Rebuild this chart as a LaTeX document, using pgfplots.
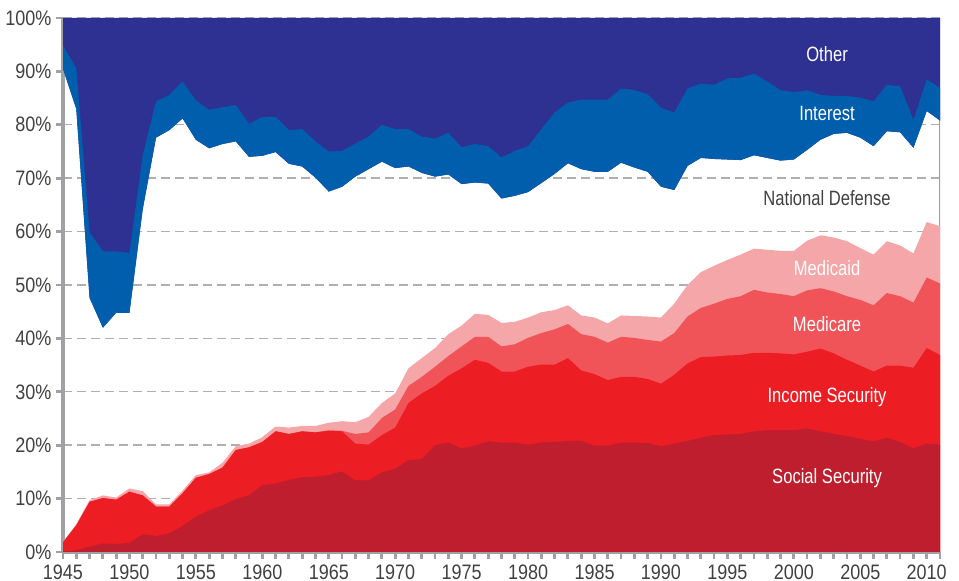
\documentclass[border=0pt]{standalone}
\usepackage{fontspec}
\setmainfont{Liberation Sans}[FakeStretch=0.86]
\newfontfamily\labfont{Liberation Sans}[FakeStretch=0.8]
\usepackage{pgfplots}
\usepackage{pgfplotstable}
\usepgfplotslibrary{fillbetween}
\pgfplotsset{compat=1.18}
\definecolor{othercol}{RGB}{46,49,146}
\definecolor{intcol}{RGB}{0,94,172}
\definecolor{mcdcol}{RGB}{244,166,168}
\definecolor{mcrcol}{RGB}{240,84,89}
\definecolor{inccol}{RGB}{237,29,36}
\definecolor{sscol}{RGB}{190,30,45}
\definecolor{axisgray}{RGB}{160,161,164}
\definecolor{gridgray}{RGB}{175,175,178}
\definecolor{txtgray}{RGB}{64,64,66}
\pgfplotstableread{
year ss inc mcr mcd def int
1945 0.1 1.8 1.8 1.9 90.5 94.8
1946 0.3 5.0 5.0 5.2 83.0 90.6
1947 1.0 9.4 9.4 9.7 47.6 59.9
1948 1.6 10.1 10.1 10.6 42.0 56.3
1949 1.5 9.8 9.8 10.2 44.8 56.3
1950 1.7 11.3 11.3 11.9 44.8 56.0
1951 3.3 10.6 10.6 11.4 64.2 74.3
1952 3.0 8.5 8.5 8.9 77.6 84.4
1953 3.5 8.5 8.5 8.9 79.0 85.6
1954 4.9 11.0 11.0 11.5 81.2 88.1
1955 6.6 13.9 13.9 14.4 77.2 84.6
1956 7.8 14.6 14.6 14.9 75.6 82.8
1957 8.7 15.8 15.8 16.7 76.4 83.3
1958 9.9 19.1 19.1 19.8 76.9 83.7
1959 10.6 19.6 19.6 20.3 74.0 80.2
1960 12.5 20.6 20.6 21.5 74.2 81.5
1961 12.8 22.6 22.6 23.5 74.9 81.5
1962 13.5 22.1 22.1 23.3 72.7 79.0
1963 14.0 22.6 22.6 23.6 72.2 79.2
1964 14.1 22.4 22.4 23.6 70.1 76.9
1965 14.4 22.7 22.8 24.2 67.5 75.0
1966 15.1 22.6 22.7 24.5 68.4 75.1
1967 13.4 20.3 22.1 24.3 70.3 76.5
1968 13.4 20.1 22.4 25.3 71.7 77.8
1969 14.9 21.9 25.1 27.9 73.1 80.0
1970 15.6 23.3 26.7 29.7 71.9 79.2
1971 17.2 27.9 31.1 34.4 72.2 79.2
1972 17.4 29.7 32.8 36.3 71.0 77.8
1973 20.0 31.1 34.7 38.2 70.3 77.4
1974 20.5 33.0 36.7 40.8 70.7 78.5
1975 19.4 34.4 38.5 42.4 68.9 75.8
1976 19.9 36.0 40.3 44.6 69.2 76.4
1977 20.7 35.4 40.3 44.4 69.0 76.0
1978 20.5 33.8 38.5 42.9 66.2 73.9
1979 20.5 33.8 38.9 43.1 66.7 75.1
1980 20.1 34.7 40.1 43.9 67.4 76.0
1981 20.5 35.1 41.0 44.9 69.1 79.2
1982 20.6 35.1 41.7 45.3 70.8 82.3
1983 20.8 36.3 42.7 46.2 72.8 84.2
1984 20.8 34.0 40.8 44.3 71.7 84.7
1985 19.9 33.3 40.3 43.9 71.2 84.7
1986 19.9 32.2 39.2 42.8 71.2 84.7
1987 20.5 32.8 40.3 44.3 72.9 86.8
1988 20.5 32.8 40.1 44.2 72.0 86.5
1989 20.4 32.4 39.7 44.1 71.2 85.7
1990 19.8 31.5 39.4 43.9 68.4 83.2
1991 20.3 33.2 41.0 46.5 67.8 82.3
1992 20.8 35.3 44.1 50.0 72.3 86.8
1993 21.4 36.5 45.7 52.4 73.8 87.7
1994 21.9 36.6 46.5 53.6 73.6 87.5
1995 22.0 36.8 47.4 54.7 73.5 88.7
1996 22.1 36.9 47.9 55.7 73.4 88.8
1997 22.6 37.3 49.1 56.8 74.3 89.6
1998 22.8 37.3 48.6 56.6 73.8 88.1
1999 22.8 37.2 48.3 56.4 73.3 86.5
2000 22.8 37.0 47.9 56.4 73.5 86.1
2001 23.1 37.5 49.0 58.3 75.3 86.5
2002 22.6 38.1 49.4 59.3 77.2 85.6
2003 22.1 37.2 48.8 58.9 78.3 85.4
2004 21.7 36.0 47.9 58.2 78.5 85.4
2005 21.2 34.9 47.2 56.9 77.6 85.1
2006 20.7 33.8 46.2 55.7 76.0 84.4
2007 21.4 34.9 48.5 58.2 78.8 87.5
2008 20.6 34.9 47.9 57.4 78.6 87.2
2009 19.4 34.5 46.7 55.9 75.7 80.9
2010 20.3 38.2 51.4 61.8 82.6 88.5
2011 20.1 36.9 50.3 61.0 80.8 86.9
}\spending
\pgfplotsset{layers/mylayers/.define layer set={axis background,axis grid,pre main,main,axis ticks,axis lines,axis tick labels,axis descriptions,axis foreground}{}}
\begin{document}
\begin{tikzpicture}
\begin{axis}[
  name=ax,
  set layers=mylayers,
  fill between/on layer=main,
  scale only axis,
  width=438.5bp, height=267bp,
  xmin=1945, xmax=2011, ymin=0, ymax=100,
  axis x line*=bottom, axis y line*=left,
  axis line style={draw=axisgray, line width=1.7bp},
  xtick={1945,1950,...,2010},
  minor xtick={1945,...,2011},
  ytick={0,10,...,100},
  tick align=outside,
  major tick length=3.5bp, minor tick length=3.5bp,
  every tick/.style={draw=axisgray, line width=1.4bp},
  ymajorgrids,
  grid style={draw=gridgray, line width=0.7bp, dash pattern=on 4.5bp off 2.5bp},
  /pgf/number format/assume math mode=true,
  /pgf/number format/1000 sep={},
  yticklabel={\pgfmathprintnumber{\tick}\%},
  tick label style={font=\fontsize{10.5}{11}\selectfont, text=txtgray},
  yticklabel style={xshift=1.2bp},
  xticklabel style={yshift=0.8bp},
]
\draw[axisgray, line width=0.6bp] (rel axis cs:1,0) -- (rel axis cs:1,1);
\addplot[draw=none, name path=top, forget plot] coordinates {(1945,100) (2011,100)};
\addplot[draw=none, name path=int, forget plot] table[x=year,y=int]{\spending};
\addplot[draw=none, name path=def, forget plot] table[x=year,y=def]{\spending};
\addplot[fill=othercol, draw=none] fill between[of=top and def];
\addplot[fill=intcol, draw=none] fill between[of=int and def];
\addplot[fill=mcdcol, draw=none] table[x=year,y=mcd]{\spending} \closedcycle;
\addplot[fill=mcrcol, draw=none] table[x=year,y=mcr]{\spending} \closedcycle;
\addplot[fill=inccol, draw=none] table[x=year,y=inc]{\spending} \closedcycle;
\addplot[fill=sscol, draw=none] table[x=year,y=ss]{\spending} \closedcycle;
\node[font=\labfont\fontsize{10.4}{12}\selectfont, text=white] at (axis cs:2002.5,93.2) {Other};
\node[font=\labfont\fontsize{10.4}{12}\selectfont, text=white] at (axis cs:2002.5,82.2) {Interest};
\node[font=\labfont\fontsize{10.4}{12}\selectfont, text=txtgray] at (axis cs:2002.5,66.2) {National Defense};
\node[font=\labfont\fontsize{10.4}{12}\selectfont, text=white] at (axis cs:2002.5,53.1) {Medicaid};
\node[font=\labfont\fontsize{10.4}{12}\selectfont, text=white] at (axis cs:2002.5,42.6) {Medicare};
\node[font=\labfont\fontsize{10.4}{12}\selectfont, text=white] at (axis cs:2002.5,29.0) {Income Security};
\node[font=\labfont\fontsize{10.4}{12}\selectfont, text=white] at (axis cs:2002.5,13.8) {Social Security};
\end{axis}
\pgfresetboundingbox
\path ([xshift=-31.5bp,yshift=-14.5bp]ax.south west) rectangle ([xshift=9.5bp,yshift=9bp]ax.north east);
\end{tikzpicture}
\end{document}
